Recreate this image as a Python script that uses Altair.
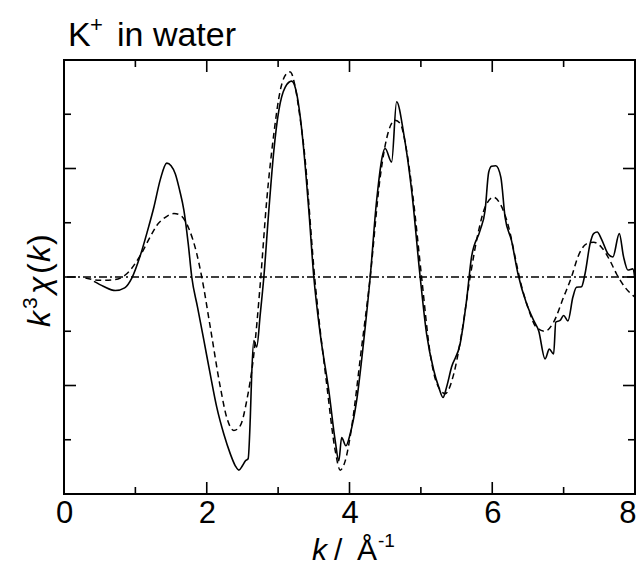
import altair as alt
import pandas as pd

FONT = "Liberation Sans"

# ---- data ----
solid_k = [0.42, 0.55, 0.72, 0.85, 0.95, 1.07, 1.17, 1.26, 1.35, 1.44, 1.50, 1.56, 1.62, 1.68,
           1.74, 1.79, 1.87, 1.96, 2.05, 2.14, 2.24, 2.33, 2.40, 2.45, 2.50, 2.54, 2.58, 2.61,
           2.63, 2.66, 2.70, 2.75, 2.80, 2.87, 2.94, 3.01, 3.10, 3.19, 3.26, 3.31, 3.36, 3.43,
           3.50, 3.59, 3.71, 3.80, 3.85, 3.89, 3.95, 4.01, 4.10, 4.20, 4.29, 4.38, 4.50, 4.59,
           4.66, 4.76, 4.87, 4.99, 5.08, 5.18, 5.25, 5.31, 5.36, 5.43, 5.55, 5.64, 5.71, 5.83,
           5.90, 5.95, 5.99, 6.05, 6.12, 6.18, 6.27, 6.36, 6.48, 6.58, 6.65, 6.74, 6.80, 6.86,
           6.89, 6.95, 7.00, 7.06, 7.13, 7.18, 7.25, 7.30, 7.37, 7.42, 7.47, 7.53, 7.62, 7.69,
           7.78, 7.84, 7.90, 7.97, 8.00]
solid_y = [-0.08, -0.17, -0.25, -0.20, -0.02, 0.40, 0.85, 1.29, 1.80, 2.10, 2.05, 1.90, 1.60, 1.23,
           0.62, 0.00, -0.55, -1.17, -1.80, -2.40, -2.90, -3.26, -3.48, -3.56, -3.48, -3.39, -3.35, -2.60,
           -1.79, -1.17, -1.29, -0.68, 0.00, 1.23, 2.33, 3.07, 3.50, 3.61, 3.38, 2.95, 2.33, 1.23,
           0.00, -1.05, -2.09, -3.02, -3.39, -2.96, -3.11, -2.89, -2.28, -1.17, 0.00, 1.41, 2.37, 2.12,
           3.23, 2.64, 1.60, 0.00, -1.05, -1.72, -2.03, -2.22, -2.03, -1.66, -1.23, -0.43, 0.37, 0.86,
           1.23, 1.93, 2.04, 2.05, 1.84, 1.10, 0.67, 0.06, -0.49, -0.80, -0.99, -1.51, -1.33, -1.42,
           -0.83, -0.80, -0.71, -0.81, -0.37, -0.19, -0.18, 0.06, 0.61, 0.80, 0.83, 0.70, 0.43, 0.37,
           0.80, 0.37, 0.13, 0.15, -0.05]

dashed_k = [0.30, 0.50, 0.70, 0.88, 1.07, 1.20, 1.30, 1.42, 1.54, 1.63, 1.75, 1.86, 1.93, 2.05,
            2.19, 2.28, 2.38, 2.47, 2.56, 2.66, 2.75, 2.84, 2.94, 3.03, 3.12, 3.17, 3.24, 3.30,
            3.36, 3.52, 3.68, 3.80, 3.87, 3.94, 4.03, 4.16, 4.29, 4.43, 4.55, 4.64, 4.71, 4.80,
            4.89, 5.01, 5.13, 5.22, 5.34, 5.46, 5.57, 5.69, 5.81, 5.90, 6.02, 6.11, 6.23, 6.32,
            6.39, 6.50, 6.62, 6.74, 6.86, 7.00, 7.11, 7.20, 7.32, 7.42, 7.53, 7.65, 7.74, 7.86,
            7.97, 8.00]
dashed_y = [-0.02, -0.06, -0.05, 0.06, 0.40, 0.72, 0.95, 1.10, 1.17, 1.14, 0.89, 0.43, 0.00, -0.93,
            -2.03, -2.59, -2.83, -2.74, -2.28, -1.42, -0.12, 1.41, 2.64, 3.44, 3.75, 3.78, 3.50, 3.00,
            2.40, -0.12, -1.97, -3.20, -3.56, -3.39, -2.77, -1.40, 0.00, 1.84, 2.70, 2.89, 2.83, 2.33,
            1.47, 0.00, -1.41, -1.95, -2.15, -1.79, -1.05, 0.00, 0.86, 1.29, 1.47, 1.35, 0.92, 0.37,
            -0.06, -0.56, -0.93, -1.00, -0.83, -0.37, 0.00, 0.37, 0.61, 0.64, 0.55, 0.30, 0.06, -0.19,
            -0.34, -0.37]

x_major = [0, 2, 4, 6, 8]
x_minor = [1, 3, 5, 7]
y_major = [-2, 0, 2]
y_minor = [-3, -1, 1, 3]

W, H = 571, 434

xs = alt.Scale(domain=[0, 8], nice=False, zero=False)
ys = alt.Scale(domain=[-4, 4], nice=False, zero=False)

solid_df = pd.DataFrame({"k": solid_k, "v": solid_y})
dashed_df = pd.DataFrame({"k": dashed_k, "v": dashed_y})

x_axis = alt.Axis(values=x_major, format="d", ticks=False, domain=False, grid=False,
                  labelFontSize=31, labelFont=FONT, labelColor="black", labelPadding=4,
                  labelFlush=False, labelOverlap=False, title=None,
                  labelAlign=alt.ExprRef("datum.value == 8 ? 'right' : 'center'"),
                  labelOffset=alt.ExprRef("datum.value == 8 ? 1 : 0"))
y_axis = alt.Axis(labels=False, ticks=False, domain=False, grid=False, title=None)

solid = alt.Chart(solid_df).mark_line(color="black", strokeWidth=1.6, interpolate="monotone").encode(
    x=alt.X("k:Q", scale=xs, axis=x_axis),
    y=alt.Y("v:Q", scale=ys, axis=y_axis),
)
dashed = alt.Chart(dashed_df).mark_line(color="black", strokeWidth=1.5, strokeDash=[6, 4],
                                        interpolate="monotone").encode(
    x=alt.X("k:Q", scale=xs), y=alt.Y("v:Q", scale=ys))

zero = alt.Chart(alt.Data(values=[{}])).mark_rule(color="black", strokeWidth=1.3,
                                                 strokeDash=[8, 3, 2, 3]).encode(
    y=alt.datum(0, scale=ys))

frame = alt.Chart(alt.Data(values=[{}])).mark_rect(filled=False, stroke="black", strokeWidth=2).encode(
    x=alt.value(0), x2=alt.value(W), y=alt.value(0), y2=alt.value(H))


def xticks(vals, length):
    d = pd.DataFrame({"k": vals})
    b = alt.Chart(d).mark_rule(color="black", strokeWidth=1.6).encode(
        x=alt.X("k:Q", scale=xs), y=alt.value(H), y2=alt.value(H - length))
    t = alt.Chart(d).mark_rule(color="black", strokeWidth=1.6).encode(
        x=alt.X("k:Q", scale=xs), y=alt.value(0), y2=alt.value(length))
    return [b, t]


def yticks(vals, length):
    d = pd.DataFrame({"v": vals})
    l = alt.Chart(d).mark_rule(color="black", strokeWidth=1.6).encode(
        y=alt.Y("v:Q", scale=ys), x=alt.value(0), x2=alt.value(length))
    r = alt.Chart(d).mark_rule(color="black", strokeWidth=1.6).encode(
        y=alt.Y("v:Q", scale=ys), x=alt.value(W), x2=alt.value(W - length))
    return [l, r]


def txt(s, x, y, size, style="normal", angle=0, align="left"):
    return alt.Chart(alt.Data(values=[{}])).mark_text(
        text=s, fontSize=size, fontStyle=style, font=FONT, angle=angle, align=align,
        baseline="alphabetic", color="black").encode(x=alt.value(x), y=alt.value(y))


texts = [
    # title  K+ in water
    txt("K", 4, -14, 34),
    txt("+", 26, -28, 22),
    txt("in water", 53, -14, 34),
    # x title  k / Å-1
    txt("k", 248, 500, 30, "italic"),
    txt("/", 270, 500, 30),
    txt("Å", 293, 500, 30),
    txt("-1", 314, 487, 19),
    # y title  k3 χ(k)
    txt("k", -14, 267, 32, "italic", 270),
    txt("3", -27, 249, 21, "normal", 270),
    txt("χ", -14, 234, 32, "italic", 270),
    txt("(", -14, 214, 32, "normal", 270),
    txt("k", -14, 202, 32, "italic", 270),
    txt(")", -14, 185, 32, "normal", 270),
]

layers = [zero, dashed, solid, frame] + xticks(x_major, 12) + xticks(x_minor, 7) \
    + yticks(y_major, 12) + yticks(y_minor, 7) + texts

chart = alt.layer(*layers).properties(
    width=W, height=H,
    autosize=alt.AutoSizeParams(type="none"),
    padding={"left": 56, "top": 52, "right": 1, "bottom": 72},
).configure_view(stroke="black", strokeWidth=2).configure(background="white")

chart.save("out.html", embed_options={"renderer": "svg", "actions": False})
